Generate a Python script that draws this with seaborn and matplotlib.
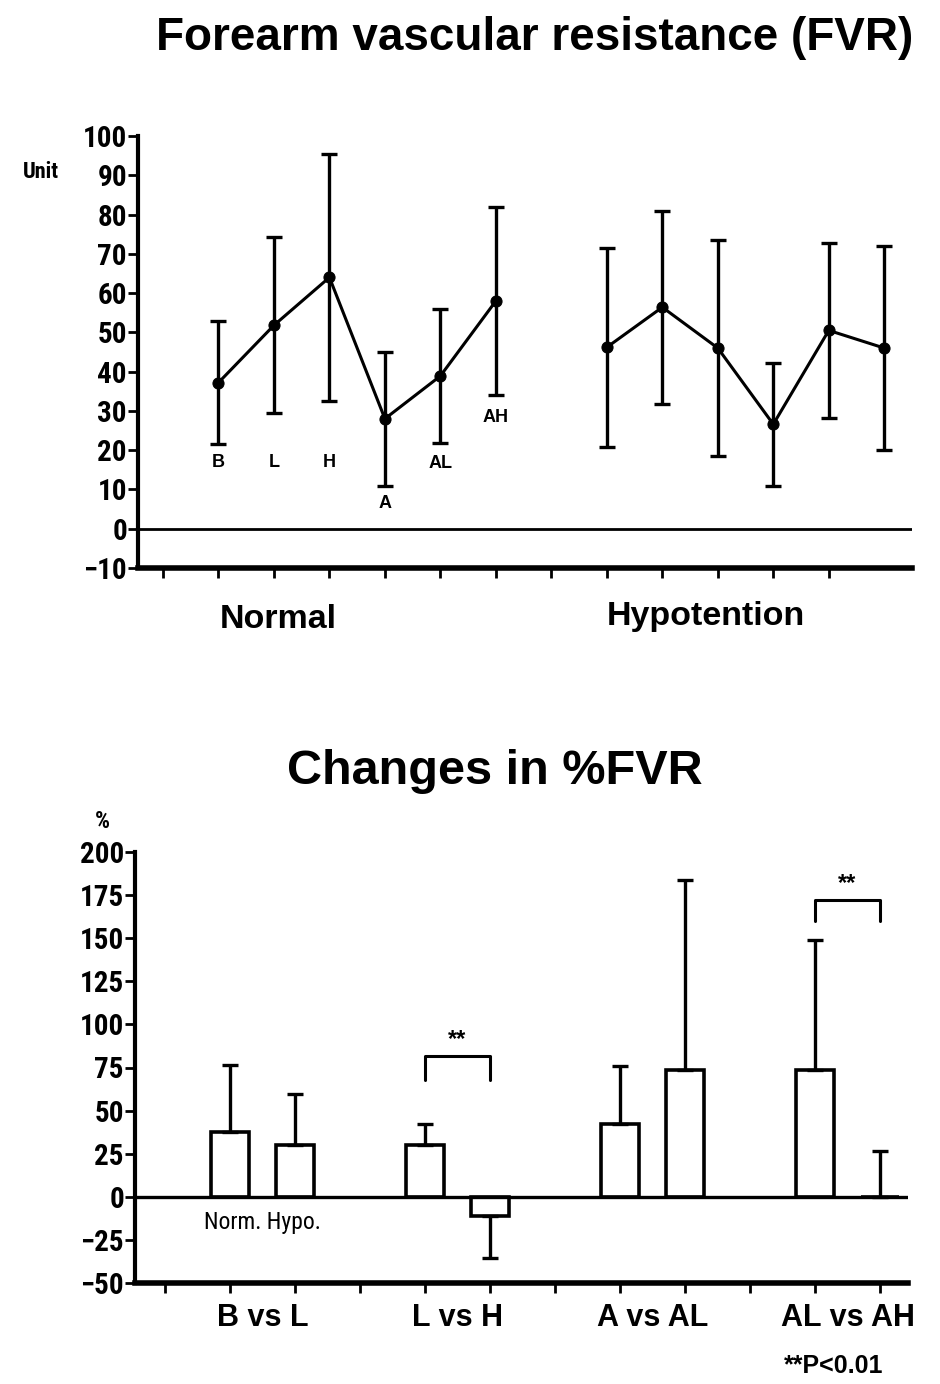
import numpy as np
import pandas as pd
import matplotlib
matplotlib.use("Agg")
import matplotlib.pyplot as plt
import seaborn as sns

# ---------------- data ----------------
conditions = ["B", "L", "H", "A", "AL", "AH"]
group_names = ["Normal", "Hypotention"]
normal_mean = [37.2, 51.8, 64.0, 28.0, 38.9, 58.0]
normal_sd = [15.6, 22.4, 31.5, 17.0, 17.0, 24.0]
hypo_mean = [46.2, 56.4, 46.0, 26.6, 50.5, 46.0]
hypo_sd = [25.3, 24.6, 27.6, 15.7, 22.2, 26.0]
label_y = [16.9, 16.9, 16.9, 6.3, 16.5, 28.3]

comparisons = ["B vs L", "L vs H", "A vs AL", "AL vs AH"]
pct_norm = [37.7, 30.3, 42.5, 73.4]
pct_norm_sd = [38.6, 12.2, 33.5, 75.6]
pct_hypo = [30.3, -11.2, 73.4, 0.0]
pct_hypo_sd = [29.6, 24.5, 110.6, 26.7]
sig_pairs = ["L vs H", "AL vs AH"]
sig_bracket_top = [81.5, 172.0]
sig_bracket_leg = [67.6, 160.0]

# ---------------- style ----------------
sns.set_style("ticks")
plt.rcParams["font.family"] = ["Liberation Sans", "DejaVu Sans"]
plt.rcParams["text.color"] = "black"
plt.rcParams["xtick.color"] = "black"
plt.rcParams["ytick.color"] = "black"
plt.rcParams["axes.edgecolor"] = "black"
NARROW = ["Liberation Sans Narrow", "DejaVu Sans Condensed", "Roboto Condensed",
          "Liberation Sans", "DejaVu Sans"]

fig = plt.figure(figsize=(9.4, 13.84), dpi=100)
W, H = 940, 1384

def fx(px):
    return px / W

def fy(py):
    return 1 - py / H

# ---------------- top panel ----------------
ax1 = fig.add_axes([fx(138), fy(568), fx(912) - fx(138), (568 - 136) / H])
n = len(conditions)
x_norm = np.arange(1, n + 1)
x_hypo = np.arange(n + 2, 2 * n + 2)
df_top = pd.DataFrame({
    "pos": np.concatenate([x_norm, x_hypo]),
    "mean": normal_mean + hypo_mean,
    "sd": normal_sd + hypo_sd,
    "group": [group_names[0]] * n + [group_names[1]] * n,
})
sns.lineplot(data=df_top, x="pos", y="mean", hue="group",
             palette=["black", "black"], marker="o", markersize=8,
             markeredgecolor="black", linewidth=2.2, legend=False, ax=ax1)
ax1.errorbar(df_top["pos"], df_top["mean"], yerr=df_top["sd"], fmt="none",
             ecolor="black", elinewidth=2.4, capsize=5.5, capthick=2.4)
ax1.axhline(0, color="black", lw=2.0)
for xi, lab, ly in zip(x_norm, conditions, label_y):
    ax1.text(xi, ly, lab, ha="center", va="center", fontsize=13,
             fontweight="bold")

ax1.set_xlim(-0.45, 13.5)
ax1.set_ylim(-10, 100)
ax1.set_yticks(np.arange(-10, 101, 10))
ax1.set_xticks(np.arange(0, 13))
ax1.set_xticklabels([])
ax1.set_xlabel("")
ax1.set_ylabel("")
sns.despine(ax=ax1)
ax1.spines["left"].set_linewidth(3)
ax1.spines["bottom"].set_linewidth(4)
ax1.tick_params(axis="y", length=7, width=2, pad=1, labelsize=21)
ax1.tick_params(axis="x", length=7, width=2)
for t in ax1.get_yticklabels():
    t.set_family(NARROW)
    t.set_fontweight("bold")

fig.text(fx(535), fy(38), "Forearm vascular resistance (FVR)", ha="center",
         va="center", fontsize=33, fontweight="bold")
fig.text(fx(41), fy(172), "Unit", ha="center", va="center", fontsize=16,
         fontweight="bold", family=NARROW)
fig.text(fx(278), fy(620), group_names[0], ha="center", va="center",
         fontsize=24.5, fontweight="bold")
fig.text(fx(706), fy(617), group_names[1], ha="center", va="center",
         fontsize=24.5, fontweight="bold")

# ---------------- bottom panel ----------------
ax2 = fig.add_axes([fx(135), fy(1283), fx(908) - fx(135), (1283 - 852) / H])
m = len(comparisons)
centers = np.arange(m) * 3 + 1.5
pos_norm = centers - 0.5
pos_hypo = centers + 0.5
df_bot = pd.DataFrame({
    "pos": np.concatenate([pos_norm, pos_hypo]),
    "val": pct_norm + pct_hypo,
    "sd": pct_norm_sd + pct_hypo_sd,
})
sns.barplot(data=df_bot, x="pos", y="val", native_scale=True, width=0.58,
            color="white", edgecolor="black", linewidth=2.6, errorbar=None,
            ax=ax2)
lower = [s if v < 0 else 0 for v, s in zip(df_bot["val"], df_bot["sd"])]
upper = [0 if v < 0 else s for v, s in zip(df_bot["val"], df_bot["sd"])]
ax2.errorbar(df_bot["pos"], df_bot["val"], yerr=[lower, upper], fmt="none",
             ecolor="black", elinewidth=2.4, capsize=5.5, capthick=2.4)
ax2.axhline(0, color="black", lw=2.4)

for pair, top, leg in zip(sig_pairs, sig_bracket_top, sig_bracket_leg):
    i = comparisons.index(pair)
    x0, x1 = pos_norm[i], pos_hypo[i]
    ax2.plot([x0, x0, x1, x1], [leg, top, top, leg], color="black", lw=2.2)
    ax2.text((x0 + x1) / 2, top + 3, "**", ha="center", va="bottom",
             fontsize=17, fontweight="bold")

ax2.text(centers[0], -15, "Norm. Hypo.", ha="center", va="center",
         fontsize=17, family=NARROW)

ax2.set_xlim(-0.46, 11.43)
ax2.set_ylim(-50, 200)
ax2.set_yticks(np.arange(-50, 201, 25))
ax2.set_xticks(np.arange(0, 12))
ax2.set_xticklabels([])
ax2.set_xlabel("")
ax2.set_ylabel("")
sns.despine(ax=ax2)
ax2.spines["left"].set_linewidth(3)
ax2.spines["bottom"].set_linewidth(4)
ax2.tick_params(axis="y", length=7, width=2, pad=1, labelsize=21)
ax2.tick_params(axis="x", length=7, width=2)
for t in ax2.get_yticklabels():
    t.set_family(NARROW)
    t.set_fontweight("bold")

for c, lab in zip(centers, comparisons):
    ax2.text(c, -0.082, lab, transform=ax2.get_xaxis_transform(), ha="center",
             va="center", fontsize=22, fontweight="bold")

fig.text(fx(495), fy(772), "Changes in %FVR", ha="center", va="center",
         fontsize=35, fontweight="bold")
fig.text(fx(102), fy(822), "%", ha="center", va="center", fontsize=17,
         fontweight="bold", family=NARROW)
fig.text(fx(834), fy(1366), "**P<0.01", ha="center", va="center",
         fontsize=18, fontweight="bold")

fig.savefig("out.png", dpi=100, facecolor="white")
